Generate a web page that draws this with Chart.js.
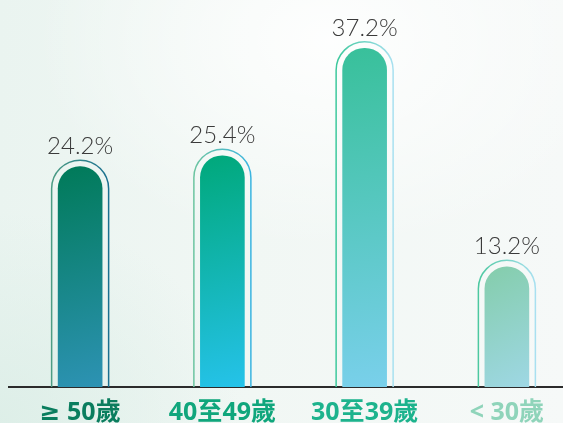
<!DOCTYPE html>
<html>
<head>
<meta charset="utf-8">
<script src="https://cdn.jsdelivr.net/npm/chart.js@4.4.1/dist/chart.umd.min.js"></script>
<style>
    html, body { margin: 0; padding: 0; overflow: hidden; }
    body {
        width: 563px;
        height: 423px;
        background:
            radial-gradient(ellipse 420px 300px at 330px 40px, rgba(255,255,255,0.9), rgba(255,255,255,0) 70%),
            radial-gradient(ellipse 300px 260px at 0px 420px, rgba(220,238,231,0.9), rgba(220,238,231,0) 80%),
            linear-gradient(to right, #eaf4f0 0%, #f1f7f4 45%, #f6f9f8 100%);
    }
    #area { width: 578px; height: 423px; }
</style>
</head>
<body>
<div id="area"><canvas id="chart_idade" width="578" height="423"></canvas></div>
<script>
// dados do grafico
const faixas = ['≥ 50歲', '40至49歲', '30至39歲', '< 30歲'];
const percentuais = [24.2, 25.4, 37.2, 13.2];

// cores
const coresTopo = ['#007a58', '#00a87a', '#38c09a', '#84cdab'];
const coresBase = ['#2e93b6', '#26c3ec', '#7ad0ec', '#a0d8e8'];
const coresContornoEsq = ['#4c9c84', '#6cc4a0', '#3cc89c', '#4cc8a0'];
const coresContornoDir = ['#1a7090', '#3ab4e0', '#a8e0f0', '#a8e0f0'];
const coresRotulo = ['#0a7d5e', '#10a67c', '#1db38d', '#8fd4ba'];

function gradienteBarra(context) {
    const chart = context.chart;
    const i = context.dataIndex;
    if (!chart.chartArea) return coresTopo[i];
    const x = chart.scales.x.getPixelForValue(i);
    const topo = chart.scales.y.getPixelForValue(percentuais[i]);
    const base = chart.scales.y.getPixelForValue(0);
    const g = chart.ctx.createLinearGradient(x - 22, topo, x + 40, base);
    g.addColorStop(0, coresTopo[i]);
    g.addColorStop(1, coresBase[i]);
    return g;
}

// contorno arredondado em volta de cada barra + rotulos de percentual
const pluginContorno = {
    id: 'contorno',
    beforeDatasetsDraw(chart) {
        const ctx = chart.ctx;
        chart.getDatasetMeta(0).data.forEach(function (barra, i) {
            const p = barra.getProps(['x', 'y', 'width', 'base'], true);
            const r = p.width / 2 + 6.5;
            const cy = p.y + p.width / 2;
            const g = ctx.createLinearGradient(p.x - r, 0, p.x + r, 0);
            g.addColorStop(0, coresContornoEsq[i]);
            g.addColorStop(1, coresContornoDir[i]);
            ctx.save();
            ctx.beginPath();
            ctx.moveTo(p.x - r, p.base);
            ctx.lineTo(p.x - r, cy);
            ctx.arc(p.x, cy, r, Math.PI, 0);
            ctx.lineTo(p.x + r, p.base);
            ctx.strokeStyle = g;
            ctx.lineWidth = 1.5;
            ctx.stroke();
            ctx.restore();
        });
    },
    afterDatasetsDraw(chart) {
        const ctx = chart.ctx;
        ctx.save();
        ctx.font = '300 24px Lato, "Noto Sans CJK TC", sans-serif';
        ctx.fillStyle = '#3a3a3a';
        ctx.textAlign = 'center';
        ctx.textBaseline = 'alphabetic';
        chart.getDatasetMeta(0).data.forEach(function (barra, i) {
            const p = barra.getProps(['x', 'y'], true);
            ctx.fillText(percentuais[i].toFixed(1) + '%', p.x, p.y - 12.5);
        });
        ctx.restore();
    }
};

const config_idade = {
    type: 'bar',
    data: {
        labels: faixas,
        datasets: [{
            data: percentuais,
            backgroundColor: gradienteBarra,
            barThickness: 44,
            borderWidth: 0,
            borderRadius: { topLeft: 22, topRight: 22, bottomLeft: 0, bottomRight: 0 },
            borderSkipped: 'bottom'
        }]
    },
    options: {
        responsive: false,
        animation: false,
        devicePixelRatio: 1,
        layout: {
            padding: { left: 9, right: 0, top: 0, bottom: 0 }
        },
        plugins: {
            legend: { display: false },
            tooltip: { enabled: false }
        },
        scales: {
            y: {
                display: false,
                min: 0,
                max: 42.5
            },
            x: {
                grid: { display: false, drawTicks: false },
                border: { display: true, color: '#2b2b2b', width: 2 },
                afterFit: function (scale) { scale.height = 36; },
                ticks: {
                    padding: 17,
                    color: function (c) { return coresRotulo[c.index]; },
                    font: { family: '"Noto Sans", "DejaVu Sans", "Noto Sans CJK TC", sans-serif', size: 25, weight: 'bold', lineHeight: 0.7 }
                }
            }
        }
    },
    plugins: [pluginContorno]
};

const chart_idade = new Chart(document.getElementById('chart_idade'), config_idade);
</script>
</body>
</html>
